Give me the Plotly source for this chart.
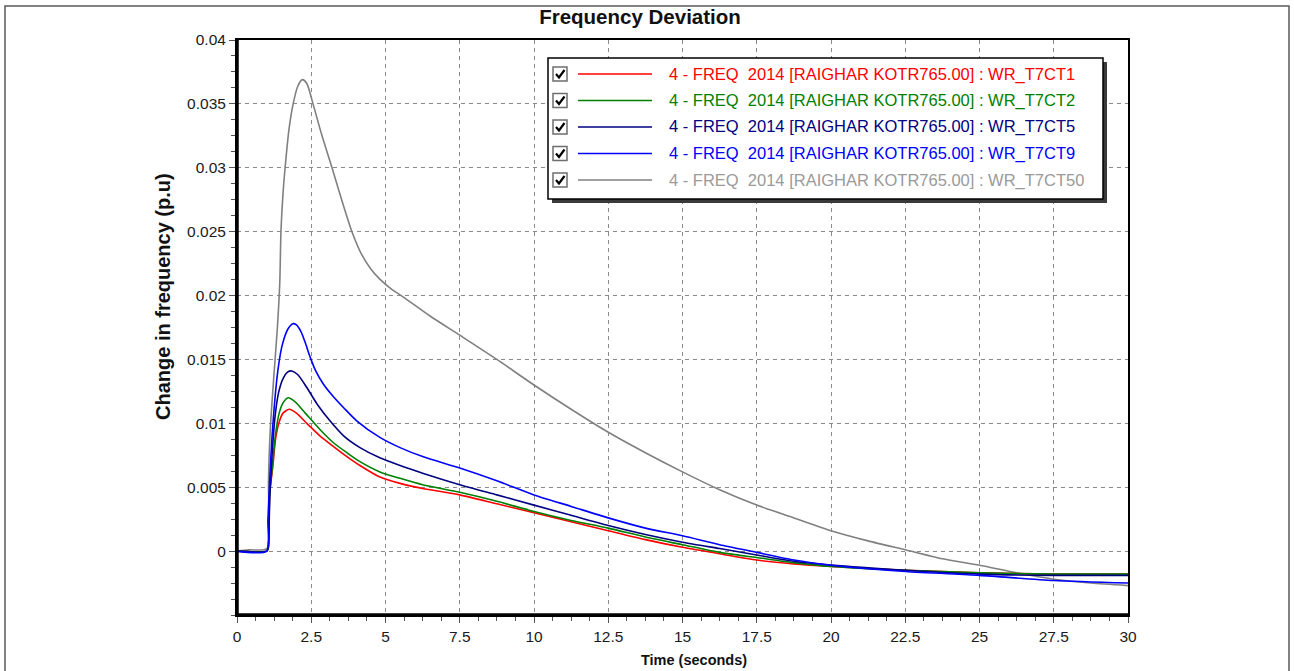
import plotly.graph_objects as go

# ---- series data: frequency deviation (p.u) versus time (s) ----
names = [
    "4 - FREQ\u00a0\u00a02014 [RAIGHAR KOTR765.00] : WR_T7CT1",
    "4 - FREQ\u00a0\u00a02014 [RAIGHAR KOTR765.00] : WR_T7CT2",
    "4 - FREQ\u00a0\u00a02014 [RAIGHAR KOTR765.00] : WR_T7CT5",
    "4 - FREQ\u00a0\u00a02014 [RAIGHAR KOTR765.00] : WR_T7CT9",
    "4 - FREQ\u00a0\u00a02014 [RAIGHAR KOTR765.00] : WR_T7CT50",
]
line_colors = ["#ff0000", "#008000", "#000080", "#0000ff", "#808080"]
text_colors = ["#ff0000", "#008000", "#000080", "#0000ff", "#9a9a9a"]

t_ct1 = [0, 1.0, 1.05, 1.1, 1.2, 1.3, 1.42, 1.55, 1.76, 2.0, 2.35, 2.8, 3.24, 3.7, 4.14,
         4.81, 5.49, 6.25, 7.5, 8.75, 10, 11.25, 12.5, 13.75, 15, 16.25, 17.5, 18.75, 20,
         22.5, 25, 27.5, 30]
f_ct1 = [0, 0, 0.0002, 0.0045, 0.0065, 0.0088, 0.0101, 0.0108, 0.0111, 0.0108, 0.0100,
         0.0090, 0.0082, 0.0074, 0.0067, 0.0058, 0.0053, 0.0049, 0.0044, 0.0037, 0.0030,
         0.0023, 0.0016, 0.0009, 0.0003, -0.0002, -0.0007, -0.0010, -0.0012, -0.0015,
         -0.0017, -0.0018, -0.0018]

t_ct2 = [0, 1.0, 1.05, 1.1, 1.2, 1.3, 1.42, 1.55, 1.72, 1.95, 2.3, 2.8, 3.24, 3.7, 4.14,
         4.81, 5.49, 6.25, 7.5, 8.75, 10, 11.25, 12.5, 13.75, 15, 16.25, 17.5, 18.75, 20,
         22.5, 25, 27.5, 30]
f_ct2 = [0, 0, 0.0002, 0.0046, 0.0068, 0.0092, 0.0108, 0.0116, 0.0120, 0.0117, 0.0108,
         0.0095, 0.0085, 0.0077, 0.0070, 0.0062, 0.0057, 0.0052, 0.0046, 0.0039, 0.0031,
         0.0024, 0.0018, 0.0011, 0.0005, -0.0001, -0.0005, -0.0009, -0.0012, -0.0015,
         -0.0017, -0.0018, -0.0018]

t_ct5 = [0, 1.0, 1.05, 1.1, 1.18, 1.28, 1.4, 1.55, 1.7, 1.84, 2.05, 2.35, 2.7, 3.13, 3.6,
         4.14, 4.81, 5.49, 6.25, 7.5, 8.75, 10, 11.25, 12.5, 13.75, 15, 16.25, 17.5, 18.75,
         20, 22.5, 25, 27.5, 30]
f_ct5 = [0, 0, 0.0003, 0.0040, 0.0075, 0.0105, 0.0124, 0.0135, 0.0140, 0.0141, 0.0138,
         0.0128, 0.0115, 0.0102, 0.0090, 0.0081, 0.0073, 0.0067, 0.0061, 0.0052, 0.0044,
         0.0036, 0.0028, 0.0020, 0.0013, 0.0007, 0.0002, -0.0003, -0.0008, -0.0011,
         -0.0015, -0.0018, -0.0019, -0.0019]

t_ct9 = [0, 1.0, 1.04, 1.11, 1.18, 1.28, 1.38, 1.52, 1.72, 1.88, 2.0, 2.15, 2.3, 2.46,
         2.65, 2.9, 3.24, 3.6, 4.03, 4.81, 5.49, 6.25, 7.5, 8.75, 10, 11.25, 12.5, 13.75,
         15, 16.25, 17.5, 18.75, 20, 22.5, 25, 27.5, 30]
f_ct9 = [0, 0, 0.0024, 0.0060, 0.0090, 0.0120, 0.0142, 0.0161, 0.0174, 0.0178, 0.0177,
         0.0172, 0.0163, 0.0152, 0.0141, 0.0131, 0.0121, 0.0112, 0.0102, 0.0089, 0.0081,
         0.0074, 0.0065, 0.0055, 0.0044, 0.0035, 0.0026, 0.0018, 0.0012, 0.0005, -0.0001,
         -0.0007, -0.0011, -0.0016, -0.0019, -0.0023, -0.0025]

t_ct50 = [0, 0.4, 0.9, 1.04, 1.06, 1.12, 1.25, 1.36, 1.44, 1.48, 1.55, 1.62, 1.75, 1.89,
          2.05, 2.2, 2.35, 2.56, 2.85, 3.2, 3.55, 3.87, 4.2, 4.5, 4.8, 5.2, 5.59, 6.5, 7.5,
          8.75, 10, 11.25, 12.5, 13.75, 15, 16.25, 17.5, 18.75, 20, 21.25, 22.5, 23.75,
          25, 26.25, 27.5, 28.75, 30]
f_ct50 = [0, 0.0001, 0.0001, 0.0003, 0.0055, 0.0095, 0.0140, 0.0175, 0.0210, 0.0250,
          0.0280, 0.0300, 0.0330, 0.0350, 0.0364, 0.0369, 0.0366, 0.0350, 0.0326, 0.0300,
          0.0273, 0.0250, 0.0232, 0.0221, 0.0213, 0.0205, 0.0199, 0.0184, 0.0169, 0.0150,
          0.0130, 0.0111, 0.0093, 0.0077, 0.0062, 0.0048, 0.0036, 0.0026, 0.0016, 0.0008,
          0.0001, -0.0006, -0.0011, -0.0017, -0.0022, -0.0025, -0.0027]

times = [t_ct1, t_ct2, t_ct5, t_ct9, t_ct50]
values = [f_ct1, f_ct2, f_ct5, f_ct9, f_ct50]

x_tick_vals = [0, 2.5, 5, 7.5, 10, 12.5, 15, 17.5, 20, 22.5, 25, 27.5, 30]
x_tick_text = ["0", "2.5", "5", "7.5", "10", "12.5", "15", "17.5", "20", "22.5", "25", "27.5", "30"]
y_tick_vals = [0, 0.005, 0.01, 0.015, 0.02, 0.025, 0.03, 0.035, 0.04]
y_tick_text = ["0", "0.005", "0.01", "0.015", "0.02", "0.025", "0.03", "0.035", "0.04"]

# ---- figure geometry (pixels) ----
W, H = 1294, 671
PL, PR, PT, PB = 237, 1128, 40, 615


def px_x(px):
    return (px - PL) / (PR - PL)


def px_y(py):
    return (PB - py) / (PB - PT)


FONT = "Liberation Sans, Arial, sans-serif"

fig = go.Figure()
# grey trace first so coloured traces sit on top of it
order = [4, 0, 1, 2, 3]
for i in order:
    fig.add_trace(go.Scatter(
        x=times[i], y=values[i], mode="lines", name=names[i],
        line=dict(color=line_colors[i], width=1.6, shape="spline", smoothing=0.7),
        showlegend=False,
    ))

shapes = []
annotations = []

# outer frame around the whole chart
shapes.append(dict(type="rect", xref="paper", yref="paper",
                   x0=px_x(5), x1=px_x(1289), y0=px_y(700), y1=px_y(6),
                   line=dict(color="#5a5a5a", width=1.5), layer="below"))

# heavier left and bottom axis lines
shapes.append(dict(type="line", xref="paper", yref="paper", x0=0, x1=0, y0=0, y1=1,
                   line=dict(color="#000000", width=3.5)))
shapes.append(dict(type="line", xref="paper", yref="paper", x0=0, x1=1, y0=0, y1=0,
                   line=dict(color="#000000", width=3.5)))

# legend box with drop shadow
LX0, LX1, LY0, LY1 = 548, 1103, 58, 199
shapes.append(dict(type="rect", xref="paper", yref="paper",
                   x0=px_x(LX0 + 4), x1=px_x(LX1 + 4), y0=px_y(LY1 + 4), y1=px_y(LY0 + 4),
                   line=dict(width=0), fillcolor="#3a3a3a"))
shapes.append(dict(type="rect", xref="paper", yref="paper",
                   x0=px_x(LX0), x1=px_x(LX1), y0=px_y(LY1), y1=px_y(LY0),
                   line=dict(color="#000000", width=1.5), fillcolor="#ffffff"))

row_y = [74, 100.5, 127, 153.5, 180]
for k, ry in enumerate(row_y):
    # checkbox
    shapes.append(dict(type="rect", xref="paper", yref="paper",
                       x0=px_x(553), x1=px_x(567), y0=px_y(ry + 7), y1=px_y(ry - 7),
                       line=dict(color="#6e6e6e", width=1.5), fillcolor="#ffffff"))
    shapes.append(dict(type="path", xref="paper", yref="paper",
                       path="M {:.5f},{:.5f} L {:.5f},{:.5f} L {:.5f},{:.5f}".format(
                           px_x(556), px_y(ry), px_x(559), px_y(ry + 3.5),
                           px_x(564.5), px_y(ry - 4)),
                       line=dict(color="#000000", width=2.2)))
    # line sample
    shapes.append(dict(type="line", xref="paper", yref="paper",
                       x0=px_x(578), x1=px_x(652), y0=px_y(ry), y1=px_y(ry),
                       line=dict(color=line_colors[k], width=1.6)))
    annotations.append(dict(xref="paper", yref="paper", x=px_x(667), y=px_y(ry),
                            xanchor="left", yanchor="middle", showarrow=False,
                            text=names[k],
                            font=dict(family=FONT, size=16.5, color=text_colors[k])))

# axis titles
annotations.append(dict(xref="paper", yref="paper", x=px_x(694), y=px_y(660),
                        xanchor="center", yanchor="middle", showarrow=False,
                        text="<b>Time (seconds)</b>",
                        font=dict(family=FONT, size=14.5, color="#111111")))
annotations.append(dict(xref="paper", yref="paper", x=px_x(163), y=px_y(297),
                        xanchor="center", yanchor="middle", showarrow=False,
                        textangle=-90, text="<b>Change in frequency (p.u)</b>",
                        font=dict(family=FONT, size=20, color="#111111")))

axis_common = dict(
    showline=True, linecolor="#000000", linewidth=2, mirror=True,
    ticks="outside", ticklen=6, tickwidth=1, tickcolor="#555555",
    showgrid=True, gridcolor="#8a8a8a", gridwidth=1, griddash="4px,4px",
    zeroline=False, tickmode="array",
    tickfont=dict(family=FONT, size=15.5, color="#1a1a1a"),
)

fig.update_layout(
    width=W, height=H,
    margin=dict(l=PL, r=W - PR, t=PT, b=H - PB, autoexpand=False),
    paper_bgcolor="#ffffff", plot_bgcolor="#ffffff",
    title=dict(text="<b>Frequency Deviation</b>", xref="container", yref="container",
               x=640 / W, y=1 - 17 / H, xanchor="center", yanchor="middle",
               font=dict(family=FONT, size=20.5, color="#111111")),
    xaxis=dict(range=[0, 30], tickvals=x_tick_vals, ticktext=x_tick_text,
               minor=dict(dtick=0.625, tick0=0, ticks="outside", ticklen=4,
                          tickcolor="#555555", showgrid=False),
               **axis_common),
    yaxis=dict(range=[-0.005, 0.04], tickvals=y_tick_vals, ticktext=y_tick_text,
               minor=dict(dtick=0.00125, tick0=0, ticks="outside", ticklen=4,
                          tickcolor="#555555", showgrid=False),
               **axis_common),
    shapes=shapes,
    annotations=annotations,
    showlegend=False,
)

fig.write_html("out.html")
